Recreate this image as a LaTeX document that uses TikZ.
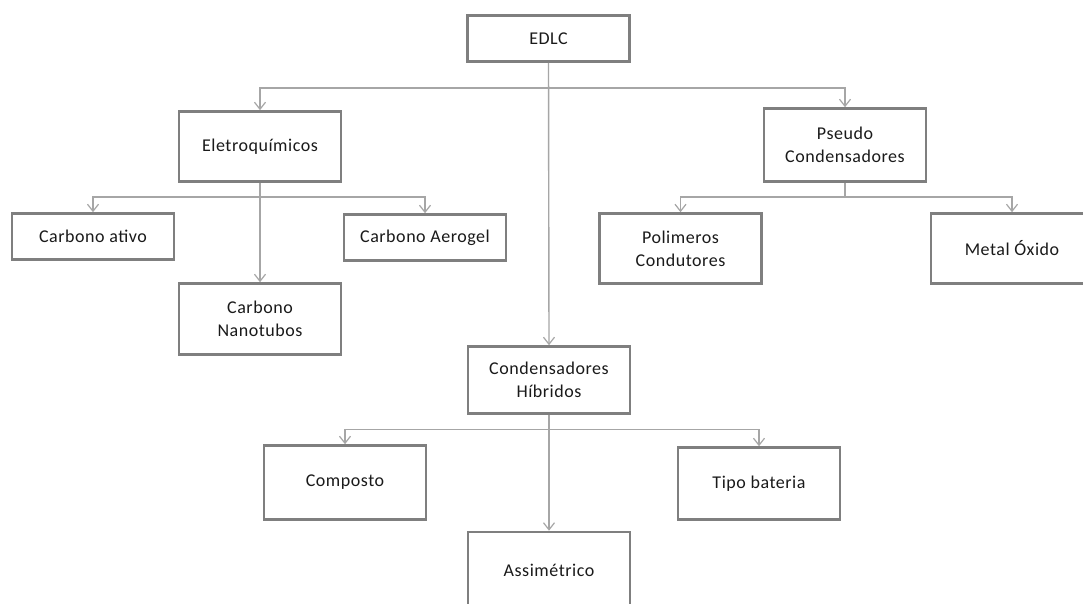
\documentclass[tikz,border=0pt]{standalone}
\usepackage{fontspec}
\setmainfont{Carlito}[LetterSpace=3]
\usetikzlibrary{arrows.meta}
\definecolor{boxgray}{HTML}{7F7F7F}
\definecolor{linegray}{HTML}{A6A6A6}
\definecolor{txtgray}{HTML}{1A1A1A}
\begin{document}
\begin{tikzpicture}[x=1pt,y=-1pt,
  box/.style={draw=boxgray,line width=2.6pt,fill=white,minimum width=162pt,
    align=center,text=txtgray,inner sep=2pt,
    font=\fontsize{18}{23}\selectfont},
  conn/.style={draw=linegray,line width=1.4pt},
  arr/.style={conn,-{Straight Barb[length=7pt,width=11pt,line width=1.2pt]}}]
\useasboundingbox (0,0) rectangle (1083,604);
\clip (0,0) rectangle (1083,604);
\fill[white] (0,0) rectangle (1083,604);
% nodes
\node[box,minimum height=46pt] (edlc) at (548.5,38.5) {EDLC};
\node[box,minimum height=70pt] (eletro) at (260,146.5) {Eletroquímicos};
\node[box,minimum height=73pt] (pseudo) at (845,145) {Pseudo\\Condensadores};
\node[box,minimum height=46pt] (ativo) at (93,236.5) {Carbono ativo};
\node[box,minimum height=46pt] (aerogel) at (425,237.5) {Carbono Aerogel};
\node[box,minimum height=71pt] (nano) at (260,319) {Carbono\\Nanotubos};
\node[box,minimum height=70pt] (poli) at (680.5,248.5) {Polimeros\\Condutores};
\node[box,minimum height=70pt] (metal) at (1012,248.5) {Metal Óxido};
\node[box,minimum height=67pt] (hib) at (549,380) {Condensadores\\Híbridos};
\node[box,minimum height=74pt] (comp) at (345,482.5) {Composto};
\node[box,minimum height=72pt] (tipo) at (759,483.5) {Tipo bateria};
\node[box,minimum height=76pt] (assim) at (549,570) {Assimétrico};
% junctions
\coordinate (j0) at (548.5,88);
\coordinate (j1) at (260,197);
\coordinate (j2) at (845,197);
\coordinate (j3) at (549,429.5);
% connectors
\draw[conn] (edlc.south) -- (j0);
\draw[arr] (j0) -| (eletro.north);
\draw[arr] (j0) -| (pseudo.north);
\draw[arr] (edlc.south) -- (hib.north);
\draw[conn] (eletro.south) -- (j1);
\draw[arr] (j1) -| (ativo.north);
\draw[arr] (j1) -| (aerogel.north);
\draw[arr] (eletro.south) -- (nano.north);
\draw[conn] (pseudo.south) -- (j2);
\draw[arr] (j2) -| (poli.north);
\draw[arr] (j2) -| (metal.north);
\draw[conn] (hib.south) -- (j3);
\draw[arr] (j3) -| (comp.north);
\draw[arr] (j3) -| (tipo.north);
\draw[arr] (hib.south) -- (assim.north);
\end{tikzpicture}
\end{document}
